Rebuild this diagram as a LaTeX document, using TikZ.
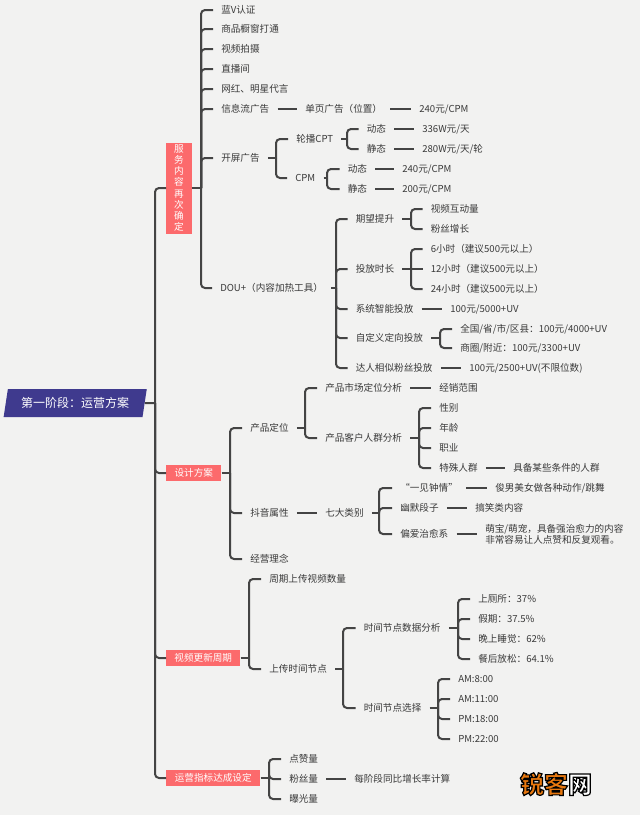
\documentclass[tikz,border=0pt]{standalone}
\usepackage{fontspec}
\setmainfont{Noto Sans CJK SC}
\usetikzlibrary{shapes.geometric}
\definecolor{paper}{HTML}{F2F2F1}
\definecolor{ink}{HTML}{3A3A3A}
\definecolor{branchred}{HTML}{FC6A6C}
\definecolor{rootblue}{HTML}{3F3A8E}
\definecolor{markorange}{HTML}{E8780F}
\newcommand{\zhcolon}{\symbol{"FF1A}}
\newcommand{\zhcomma}{\symbol{"FF0C}}
\newcommand{\zhopen}{\symbol{"FF08}}
\newcommand{\zhclose}{\symbol{"FF09}}
\tikzset{
    link/.style={draw=ink!95, line width=1.5pt, rounded corners=3pt},
    item/.style={anchor=west, inner xsep=6pt, inner ysep=0pt, text=ink, font=\fontsize{7.2}{8}\selectfont, text height=6.4pt, text depth=1.2pt},
    twolines/.style={anchor=west, inner xsep=6pt, inner ysep=0pt, text=ink, align=left, font=\fontsize{7.2}{8}\selectfont},
    branch/.style={anchor=west, fill=branchred, text=white, inner sep=0pt, font=\fontsize{7.2}{8}\selectfont, minimum height=11.6pt},
    stage/.style={trapezium, trapezium left angle=73, trapezium right angle=107, trapezium stretches=true, fill=rootblue, text=white, inner sep=0pt, minimum width=107.5pt, minimum height=21pt, font=\fontsize{9}{10}\selectfont}
}
\begin{document}
\begin{tikzpicture}[x=0.75pt,y=-0.75pt]
    \useasboundingbox (0,0) rectangle (640,815);
    \fill[paper] (0,0) rectangle (640,815);

    % Root and red branches
    \node[stage] (root) at (75.2,403) {第一阶段\zhcolon 运营方案};
    \node[branch, align=center, minimum width=19pt, minimum height=68.25pt, font=\fontsize{7.2}{8.4}\selectfont] (service) at (166,188) {服\\务\\内\\容\\再\\次\\确\\定};
    \node[branch, minimum width=41.25pt] (design) at (166,473) {设计方案};
    \node[branch, minimum width=55.5pt] (update) at (166,658) {视频更新周期};
    \node[branch, minimum width=70.5pt] (target) at (166,778) {运营指标达成设定};

    % Service branch
    \node[item] (vip) at (213,10) {蓝V认证};
    \node[item] (shop) at (213,29) {商品橱窗打通};
    \node[item] (video) at (213,49) {视频拍摄};
    \node[item] (live) at (213,69) {直播间};
    \node[item] (star) at (213,89) {网红、明星代言};
    \node[item] (feed) at (213,109) {信息流广告};
    \node[item] (single) at (297,109) {单页广告\zhopen 位置\zhclose};
    \node[item] (singleprice) at (411,109) {240元/CPM};
    \node[item] (splash) at (213,158) {开屏广告};
    \node[item] (cpt) at (288,139) {轮播CPT};
    \node[item] (cptdyn) at (358.5,129) {动态};
    \node[item] (cptsta) at (358.5,149) {静态};
    \node[item] (cptdynprice) at (414,129) {336W元/天};
    \node[item] (cptstaprice) at (414,149) {280W元/天/轮};
    \node[item] (cpm) at (287,178) {CPM};
    \node[item] (cpmdyn) at (339.5,169) {动态};
    \node[item] (cpmsta) at (339.5,189) {静态};
    \node[item] (cpmdynprice) at (394,169) {240元/CPM};
    \node[item] (cpmstaprice) at (394,189) {200元/CPM};

    % DOU+ group
    \node[item] (dou) at (212,288) {DOU+\zhopen 内容加热工具\zhclose};
    \node[item] (expect) at (347.5,219) {期望提升};
    \node[item] (interact) at (422.5,209) {视频互动量};
    \node[item] (fans) at (422.5,229) {粉丝增长};
    \node[item] (hours) at (347.5,269) {投放时长};
    \node[item] (six) at (422.5,249) {6小时\zhopen 建议500元以上\zhclose};
    \node[item] (twelve) at (422.5,269) {12小时\zhopen 建议500元以上\zhclose};
    \node[item] (day) at (422.5,289) {24小时\zhopen 建议500元以上\zhclose};
    \node[item] (smart) at (347.5,309) {系统智能投放};
    \node[item] (smartprice) at (442,309) {100元/5000+UV};
    \node[item] (custom) at (347.5,338) {自定义定向投放};
    \node[item] (nation) at (452,329) {全国/省/市/区县\zhcolon 100元/4000+UV};
    \node[item] (nearby) at (452,348) {商圈/附近\zhcolon 100元/3300+UV};
    \node[item] (similar) at (347.5,368) {达人相似粉丝投放};
    \node[item] (similarprice) at (461,368) {100元/2500+UV(不限位数)};

    % Design branch
    \node[item] (product) at (242,428) {产品定位};
    \node[item] (market) at (317,388) {产品市场定位分析};
    \node[item] (range) at (431,388) {经销范围};
    \node[item] (people) at (317,438) {产品客户人群分析};
    \node[item] (gender) at (431,408) {性别};
    \node[item] (age) at (431,428) {年龄};
    \node[item] (job) at (431,448) {职业};
    \node[item] (crowd) at (431,468) {特殊人群};
    \node[item] (crowdnote) at (505,468) {具备某些条件的人群};
    \node[item] (douyin) at (242,513) {抖音属性};
    \node[item] (seven) at (317,513) {七大类别};
    \node[item] (love) at (392,488) {“一见钟情”};
    \node[item] (lovenote) at (487,488) {俊男美女做各种动作/跳舞};
    \node[item] (funny) at (392,508) {幽默段子};
    \node[item] (funnynote) at (467,508) {搞笑类内容};
    \node[item] (heal) at (392,534) {偏爱治愈系};
    \node[twolines] (healnote) at (477,534) {萌宝/萌宠\zhcomma 具备强治愈力的内容\\非常容易让人点赞和反复观看。};
    \node[item] (idea) at (242,559) {经营理念};

    % Update branch
    \node[item] (weekly) at (261,579) {周期上传视频数量};
    \node[item] (upload) at (261,669) {上传时间节点};
    \node[item] (analysis) at (355.5,628) {时间节点数据分析};
    \node[item] (toilet) at (470,599) {上厕所\zhcolon 37\%};
    \node[item] (holiday) at (470,619) {假期\zhcolon 37.5\%};
    \node[item] (night) at (470,639) {晚上睡觉\zhcolon 62\%};
    \node[item] (meal) at (470,659) {餐后放松\zhcolon 64.1\%};
    \node[item] (choose) at (355.5,708) {时间节点选择};
    \node[item] (ameight) at (450,679) {AM:8:00};
    \node[item] (amnoon) at (450,699) {AM:11:00};
    \node[item] (pmsix) at (450,719) {PM:18:00};
    \node[item] (pmten) at (450,739) {PM:22:00};

    % Target branch
    \node[item] (likes) at (281,759) {点赞量};
    \node[item] (follow) at (281,779) {粉丝量};
    \node[item] (views) at (281,799) {曝光量};
    \node[item] (growth) at (346,779) {每阶段同比增长率计算};

    % Bus points
    \coordinate (busroot) at (155,403);
    \coordinate (busservice) at (201,188);
    \coordinate (bussplash) at (276,158);
    \coordinate (buscpt) at (347,139);
    \coordinate (buscpm) at (327,178);
    \coordinate (busdou) at (336,288);
    \coordinate (busexpect) at (411,219);
    \coordinate (bushours) at (411,269);
    \coordinate (buscustom) at (440,338);
    \coordinate (busdesign) at (230,473);
    \coordinate (busproduct) at (305,428);
    \coordinate (buspeople) at (419,438);
    \coordinate (busseven) at (379,513);
    \coordinate (busupdate) at (249,658);
    \coordinate (busupload) at (343,669);
    \coordinate (busanalysis) at (458,628);
    \coordinate (buschoose) at (438,708);
    \coordinate (bustarget) at (269,778);

    % Connectors of the root
    \draw[link] (root.east) -- (busroot);
    \draw[link] (busroot) |- (service.west);
    \draw[link] (busroot) |- (design.west);
    \draw[link] (busroot) |- (update.west);
    \draw[link] (busroot) |- (target.west);

    % Connectors of the service branch
    \draw[link] (service.east) -- (busservice);
    \draw[link] (busservice) |- (vip.west);
    \draw[link] (busservice) |- (shop.west);
    \draw[link] (busservice) |- (video.west);
    \draw[link] (busservice) |- (live.west);
    \draw[link] (busservice) |- (star.west);
    \draw[link] (busservice) |- (feed.west);
    \draw[link] (busservice) |- (splash.west);
    \draw[link] (busservice) |- (dou.west);
    \draw[link] (feed.east) -- (single.west);
    \draw[link] (single.east) -- (singleprice.west);
    \draw[link] (splash.east) -- (bussplash);
    \draw[link] (bussplash) |- (cpt.west);
    \draw[link] (bussplash) |- (cpm.west);
    \draw[link] (cpt.east) -- (buscpt);
    \draw[link] (buscpt) |- (cptdyn.west);
    \draw[link] (buscpt) |- (cptsta.west);
    \draw[link] (cptdyn.east) -- (cptdynprice.west);
    \draw[link] (cptsta.east) -- (cptstaprice.west);
    \draw[link] (cpm.east) -- (buscpm);
    \draw[link] (buscpm) |- (cpmdyn.west);
    \draw[link] (buscpm) |- (cpmsta.west);
    \draw[link] (cpmdyn.east) -- (cpmdynprice.west);
    \draw[link] (cpmsta.east) -- (cpmstaprice.west);

    % Connectors of the DOU+ group
    \draw[link] (dou.east) -- (busdou);
    \draw[link] (busdou) |- (expect.west);
    \draw[link] (busdou) |- (hours.west);
    \draw[link] (busdou) |- (smart.west);
    \draw[link] (busdou) |- (custom.west);
    \draw[link] (busdou) |- (similar.west);
    \draw[link] (expect.east) -- (busexpect);
    \draw[link] (busexpect) |- (interact.west);
    \draw[link] (busexpect) |- (fans.west);
    \draw[link] (hours.east) -- (bushours);
    \draw[link] (bushours) |- (six.west);
    \draw[link] (bushours) -- (twelve.west);
    \draw[link] (bushours) |- (day.west);
    \draw[link] (smart.east) -- (smartprice.west);
    \draw[link] (custom.east) -- (buscustom);
    \draw[link] (buscustom) |- (nation.west);
    \draw[link] (buscustom) |- (nearby.west);
    \draw[link] (similar.east) -- (similarprice.west);

    % Connectors of the design branch
    \draw[link] (design.east) -- (busdesign);
    \draw[link] (busdesign) |- (product.west);
    \draw[link] (busdesign) |- (douyin.west);
    \draw[link] (busdesign) |- (idea.west);
    \draw[link] (product.east) -- (busproduct);
    \draw[link] (busproduct) |- (market.west);
    \draw[link] (busproduct) |- (people.west);
    \draw[link] (market.east) -- (range.west);
    \draw[link] (people.east) -- (buspeople);
    \draw[link] (buspeople) |- (gender.west);
    \draw[link] (buspeople) |- (age.west);
    \draw[link] (buspeople) |- (job.west);
    \draw[link] (buspeople) |- (crowd.west);
    \draw[link] (crowd.east) -- (crowdnote.west);
    \draw[link] (douyin.east) -- (seven.west);
    \draw[link] (seven.east) -- (busseven);
    \draw[link] (busseven) |- (love.west);
    \draw[link] (busseven) |- (funny.west);
    \draw[link] (busseven) |- (heal.west);
    \draw[link] (love.east) -- (lovenote.west);
    \draw[link] (funny.east) -- (funnynote.west);
    \draw[link] (heal.east) -- (healnote.west);

    % Connectors of the update branch
    \draw[link] (update.east) -- (busupdate);
    \draw[link] (busupdate) |- (weekly.west);
    \draw[link] (busupdate) |- (upload.west);
    \draw[link] (upload.east) -- (busupload);
    \draw[link] (busupload) |- (analysis.west);
    \draw[link] (busupload) |- (choose.west);
    \draw[link] (analysis.east) -- (busanalysis);
    \draw[link] (busanalysis) |- (toilet.west);
    \draw[link] (busanalysis) |- (holiday.west);
    \draw[link] (busanalysis) |- (night.west);
    \draw[link] (busanalysis) |- (meal.west);
    \draw[link] (choose.east) -- (buschoose);
    \draw[link] (buschoose) |- (ameight.west);
    \draw[link] (buschoose) |- (amnoon.west);
    \draw[link] (buschoose) |- (pmsix.west);
    \draw[link] (buschoose) |- (pmten.west);

    % Connectors of the target branch
    \draw[link] (target.east) -- (bustarget);
    \draw[link] (bustarget) |- (likes.west);
    \draw[link] (bustarget) |- (follow.west);
    \draw[link] (bustarget) |- (views.west);
    \draw[link] (follow.east) -- (growth.west);

    % Watermark
    \node[anchor=center, inner sep=0pt, font=\fontsize{18}{20}\selectfont\bfseries] (mark) at (556,784) {\textcolor{markorange}{\special{pdf:code 0 0 0 RG 2 Tr 0.9 w}锐客}\textcolor{white}{\special{pdf:code 0 0 0 RG 2 Tr 0.9 w}网}\special{pdf:code 0 Tr}};
\end{tikzpicture}
\end{document}
